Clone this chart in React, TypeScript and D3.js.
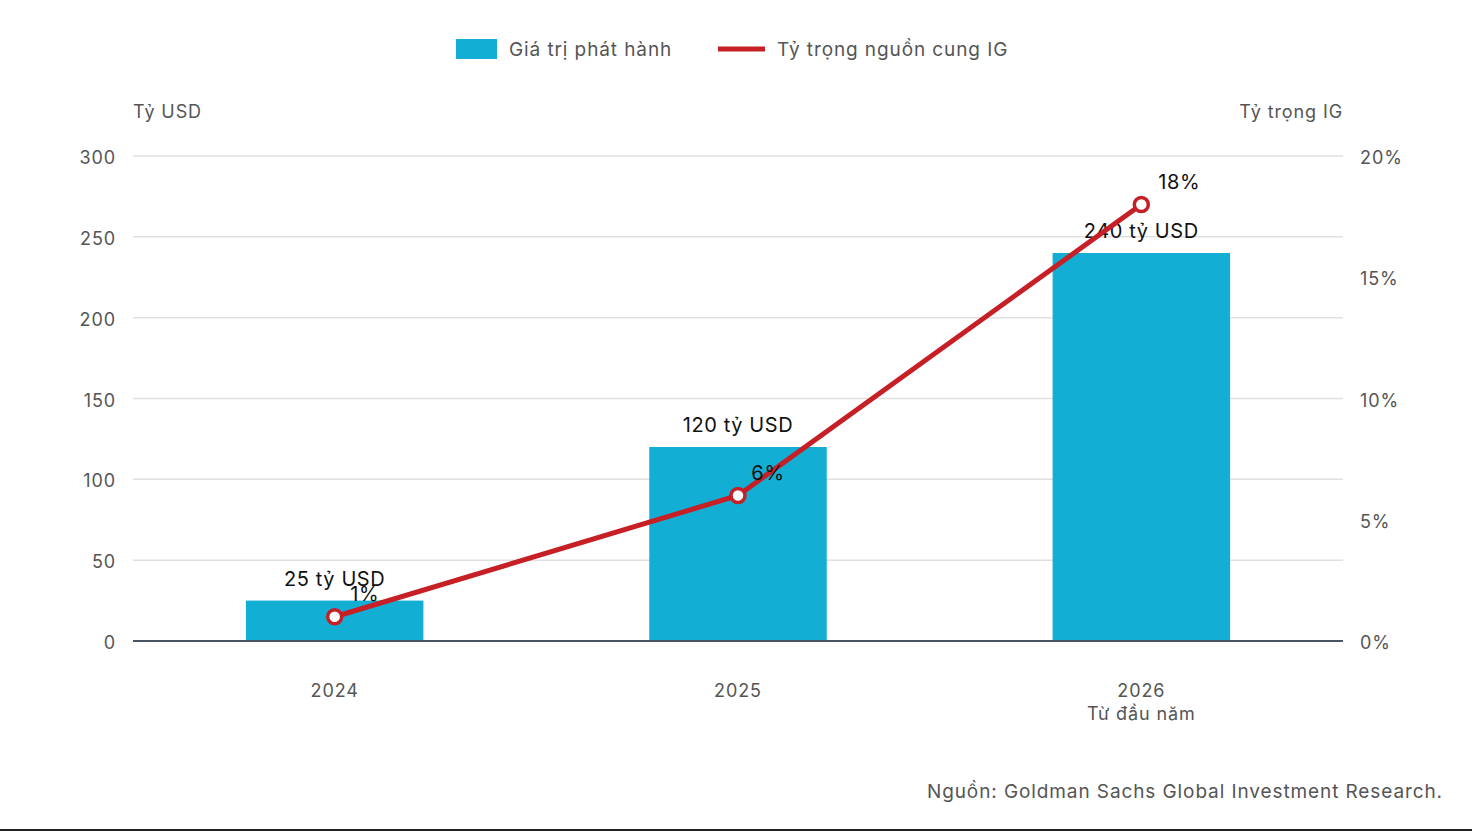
import * as d3 from "d3";

const categories = ["2024", "2025", "2026"];
const subLabels = ["", "", "Từ đầu năm"];
const issuance = [25, 120, 240];
const igShare = [1, 6, 18];
const barLabels = ["25 tỷ USD", "120 tỷ USD", "240 tỷ USD"];
const leftTicks = [0, 50, 100, 150, 200, 250, 300];
const rightTicks = [0, 5, 10, 15, 20];

const W = 1472;
const H = 832;
const FONT = "Inter, 'Noto Sans', sans-serif";
const GRAY = "#555";
const BAR = "#13aed4";
const RED = "#c62026";
const LS = 0.9;

export default function App() {
  const left = 133;
  const right = 1343;
  const top = 156;
  const bottom = 641;

  const x = d3.scaleBand<string>().domain(categories).range([left, right]).paddingInner(0.56).paddingOuter(0.28);
  const y = d3.scaleLinear().domain([0, 300]).range([bottom, top]);
  const y2 = d3.scaleLinear().domain([0, 20]).range([bottom, top]);
  const cx = (c: string) => (x(c) ?? 0) + x.bandwidth() / 2;

  const line = d3
    .line<number>()
    .x((_, i) => cx(categories[i]))
    .y((d) => y2(d));

  return (
    <svg width={W} height={H} style={{ position: "fixed", left: 0, top: 0, background: "#fff" }} fontFamily={FONT}>
      {/* legend */}
      <rect x={456} y={39} width={41} height={20} fill={BAR} />
      <text x={509} y={56} fontSize={19} fill={GRAY} letterSpacing={LS}>Giá trị phát hành</text>
      <line x1={718} x2={765} y1={49} y2={49} stroke={RED} strokeWidth={5} />
      <text x={777} y={56} fontSize={19} fill={GRAY} letterSpacing={LS}>Tỷ trọng nguồn cung IG</text>

      <text x={left} y={118} fontSize={18} fill={GRAY} letterSpacing={LS}>Tỷ USD</text>
      <text x={right} y={118} fontSize={18} fill={GRAY} textAnchor="end" letterSpacing={LS}>Tỷ trọng IG</text>

      {leftTicks.map((t) => (
        <g key={t}>
          <line x1={left} x2={right} y1={y(t)} y2={y(t)} stroke="#e0e0e0" strokeWidth={1.5} />
          <text x={116} y={y(t) + 8} fontSize={18} fill={GRAY} textAnchor="end" letterSpacing={LS}>{t}</text>
        </g>
      ))}
      {rightTicks.map((t) => (
        <text key={t} x={1360} y={y2(t) + 8} fontSize={18} fill={GRAY} letterSpacing={LS}>{t}%</text>
      ))}

      {categories.map((c, i) => (
        <g key={c}>
          <rect x={x(c)} y={y(issuance[i])} width={x.bandwidth()} height={y(0) - y(issuance[i])} fill={BAR} />
          <text x={cx(c)} y={y(issuance[i]) - 15} fontSize={20} fill="#111" textAnchor="middle" letterSpacing={0.6}>{barLabels[i]}</text>
          <text x={cx(c)} y={697} fontSize={18} fill={GRAY} textAnchor="middle" letterSpacing={LS}>{c}</text>
          {subLabels[i] && (
            <text x={cx(c)} y={720} fontSize={18} fill={GRAY} textAnchor="middle" letterSpacing={LS}>{subLabels[i]}</text>
          )}
        </g>
      ))}

      <line x1={left} x2={right} y1={bottom} y2={bottom} stroke="#4a5563" strokeWidth={2} />

      <path d={line(igShare) ?? ""} fill="none" stroke={RED} strokeWidth={5} />
      {igShare.map((v, i) => (
        <g key={i}>
          <circle cx={cx(categories[i])} cy={y2(v)} r={7} fill="#fff" stroke={RED} strokeWidth={3.5} />
          <text x={cx(categories[i]) + 30 + (v >= 10 ? 8 : 0)} y={y2(v) - 16} fontSize={20} fill="#111" textAnchor="middle" letterSpacing={0.6}>{v}%</text>
        </g>
      ))}

      <text x={1443} y={798} fontSize={19} fill={GRAY} textAnchor="end" letterSpacing={LS}>Nguồn: Goldman Sachs Global Investment Research.</text>
      <line x1={0} x2={W} y1={830} y2={830} stroke="#222" strokeWidth={2} />
    </svg>
  );
}
